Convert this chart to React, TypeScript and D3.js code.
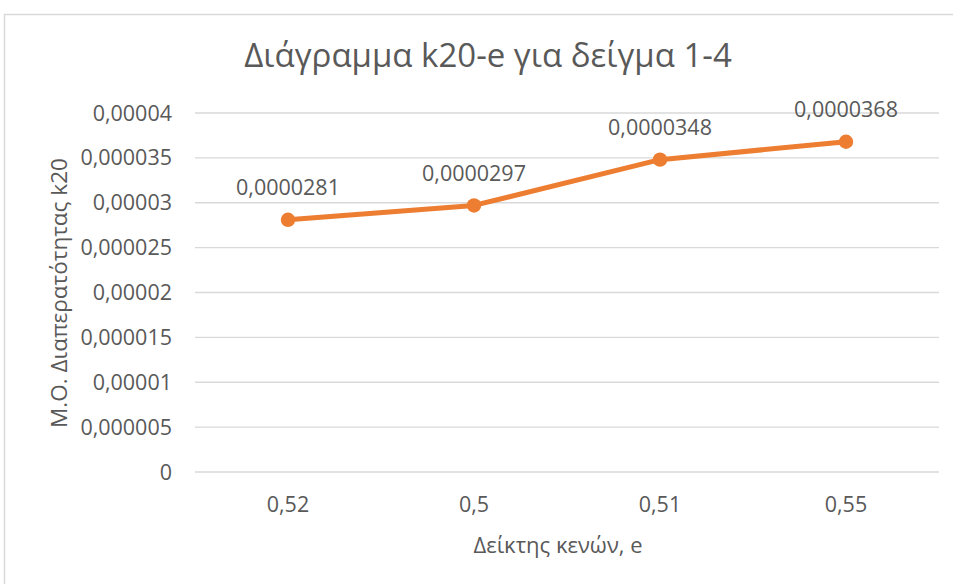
import React from "react";
import * as d3 from "d3";

const categories = ["0,52", "0,5", "0,51", "0,55"];
const values = [0.0000281, 0.0000297, 0.0000348, 0.0000368];
const valueLabels = ["0,0000281", "0,0000297", "0,0000348", "0,0000368"];
const yTicks = [0, 0.000005, 0.00001, 0.000015, 0.00002, 0.000025, 0.00003, 0.000035, 0.00004];
const yTickLabels = ["0", "0,000005", "0,00001", "0,000015", "0,00002", "0,000025", "0,00003", "0,000035", "0,00004"];
const title = "Διάγραμμα k20-e για δείγμα 1-4";
const xTitle = "Δείκτης κενών, e";
const yTitle = "Μ.Ο. Διαπερατότητας k20";

const W = 953;
const H = 584;
const left = 195;
const right = 939;
const top = 113;
const bottom = 472;
const FONT = "'Open Sans', sans-serif";
const TEXT = "#595959";
const GRID = "#d9d9d9";
const ORANGE = "#ED7D31";

export default function App() {
  const x = d3.scaleBand<string>().domain(categories).range([left, right]);
  const y = d3.scaleLinear().domain([0, 0.00004]).range([bottom, top]);
  const line = d3
    .line<number>()
    .x((_, i) => (x(categories[i]) as number) + x.bandwidth() / 2)
    .y((d) => y(d));

  return (
    <svg
      width={W}
      height={H}
      style={{ position: "absolute", left: 0, top: 0, background: "#fff" }}
      fontFamily={FONT}
    >
      <rect x={0} y={0} width={W} height={H} fill="#fff" />
      <path d={`M4.5,${H} V14.5 H${W}`} fill="none" stroke={GRID} strokeWidth={1.5} />
      <text x={488} y={67} textAnchor="middle" fontSize={33} fill={TEXT}>
        {title}
      </text>
      {yTicks.map((t, i) => (
        <g key={i}>
          <line x1={left} x2={right} y1={y(t)} y2={y(t)} stroke={GRID} strokeWidth={1.3} />
          <text x={172} y={y(t)} dy="0.35em" textAnchor="end" fontSize={21.5} fill={TEXT}>
            {yTickLabels[i]}
          </text>
        </g>
      ))}
      {categories.map((c) => (
        <text
          key={c}
          x={(x(c) as number) + x.bandwidth() / 2}
          y={504}
          dy="0.35em"
          textAnchor="middle"
          fontSize={21.5}
          fill={TEXT}
        >
          {c}
        </text>
      ))}
      <text x={558} y={545} dy="0.35em" textAnchor="middle" fontSize={22} fill={TEXT}>
        {xTitle}
      </text>
      <text
        transform={`translate(59,293) rotate(-90)`}
        dy="0.35em"
        textAnchor="middle"
        fontSize={22.5}
        fill={TEXT}
      >
        {yTitle}
      </text>
      <path d={line(values) || ""} fill="none" stroke={ORANGE} strokeWidth={5} strokeLinejoin="round" />
      {values.map((v, i) => {
        const cx = (x(categories[i]) as number) + x.bandwidth() / 2;
        return (
          <g key={i}>
            <circle cx={cx} cy={y(v)} r={7.2} fill={ORANGE} />
            <text x={cx} y={y(v) - 32} dy="0.35em" textAnchor="middle" fontSize={21.5} fill={TEXT}>
              {valueLabels[i]}
            </text>
          </g>
        );
      })}
    </svg>
  );
}
